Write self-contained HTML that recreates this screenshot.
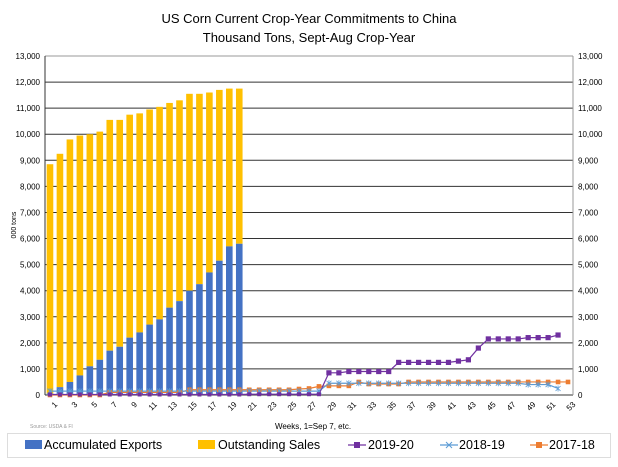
<!DOCTYPE html>
<html><head><style>
body{margin:0;background:#fff;width:618px;height:462px;overflow:hidden;font-family:"Liberation Sans",sans-serif}
</style></head><body>
<svg id="c" width="618" height="462" xmlns="http://www.w3.org/2000/svg" font-family="Liberation Sans, sans-serif"></svg>
<script>
const s=document.getElementById('c');
let h='';
const X0=45,X1=573,Y0=395,Y1=56;
const step=(X1-X0)/53;
const cx=i=>X0+(i-0.5)*step;
const cy=v=>Y0-(v/13000)*(Y0-Y1);
h+=`<text x="309" y="23" font-size="13" text-anchor="middle" fill="#000">US Corn Current Crop-Year Commitments to China</text>`;
h+=`<text x="309" y="42" font-size="13" text-anchor="middle" fill="#000">Thousand Tons, Sept-Aug Crop-Year</text>`;
for(let k=0;k<=13;k++){const y=cy(k*1000);
 h+=`<line x1="${X0}" x2="${X1}" y1="${y}" y2="${y}" stroke="${k==13?'#999':'#333'}" stroke-width="1"/>`;
 const t=k==0?'0':(k*1000).toLocaleString('en-US');
 h+=`<text x="${X0-5}" y="${y+3}" font-size="8" text-anchor="end">${t}</text>`;
 h+=`<text x="${X1+5}" y="${y+3}" font-size="8">${t}</text>`;}
h+=`<line x1="${X0}" x2="${X0}" y1="${Y1}" y2="${Y0}" stroke="#333"/>`;
h+=`<line x1="${X1}" x2="${X1}" y1="${Y1}" y2="${Y0}" stroke="#999"/>`;
const tot=[8.85,9.25,9.8,9.95,10.0,10.1,10.55,10.55,10.75,10.8,10.95,11.05,11.2,11.3,11.55,11.55,11.6,11.7,11.75,11.75];
const ex=[0.05,0.3,0.5,0.75,1.1,1.35,1.7,1.85,2.2,2.4,2.7,2.9,3.35,3.6,4.0,4.25,4.7,5.15,5.7,5.8];
for(let i=0;i<20;i++){const x=cx(i+1)-3.3,w=6.6;
 h+=`<rect x="${x}" y="${cy(tot[i]*1000)}" width="${w}" height="${cy(ex[i]*1000)-cy(tot[i]*1000)}" fill="#FFC000"/>`;
 h+=`<rect x="${x}" y="${cy(ex[i]*1000)}" width="${w}" height="${Y0-cy(ex[i]*1000)}" fill="#4472C4"/>`;}
const p=[],b=[],o=[];
for(let i=1;i<=52;i++){let v;
 if(i<=28)v=i<=20?20:30; else if(i<=30)v=850; else if(i<=35)v=900; else if(i<=41)v=1250; else if(i==42)v=1300; else if(i==43)v=1350; else if(i==44)v=1800; else if(i<=48)v=2150; else if(i<=51)v=2200; else v=2300;
 p.push(v);
 let w; if(i<=28)w=150; else if(i<=48)w=450; else if(i<=51)w=400; else w=250; b.push(w);}
for(let i=1;i<=53;i++){let v;
 if(i<=6)v=0; else if(i<=14)v=100; else if(i<=25)v=200; else if(i==26)v=230; else if(i<=27)v=250; else if(i==28)v=330; else if(i<=31)v=350; else if(i==32)v=500; else if(i<=36)v=420; else v=500; o.push(v);}
function line(d,c){return `<polyline fill="none" stroke="${c}" stroke-width="1.2" points="${d.map((v,i)=>cx(i+1)+','+cy(v)).join(' ')}"/>`;}
h+=line(o,'#ED7D31');h+=line(b,'#5B9BD5');h+=line(p,'#7030A0');
o.forEach((v,i)=>h+=`<rect x="${cx(i+1)-2.3}" y="${cy(v)-2.3}" width="4.6" height="4.6" fill="#ED7D31"/>`);
b.forEach((v,i)=>{const x=cx(i+1),y=cy(v);h+=`<path d="M${x-2.5} ${y-2.5}L${x+2.5} ${y+2.5}M${x+2.5} ${y-2.5}L${x-2.5} ${y+2.5}M${x} ${y-3}V${y+3}" stroke="#5B9BD5" stroke-width="0.8"/>`;});
p.forEach((v,i)=>{const sz=i<28?4:5.2;h+=`<rect x="${cx(i+1)-sz/2}" y="${cy(v)-sz/2}" width="${sz}" height="${sz}" fill="#7030A0"/>`;});
for(let i=1;i<=53;i+=2){const x=cx(i)+4,y=401;
 h+=`<text x="${x}" y="${y}" font-size="8" text-anchor="end" transform="rotate(-45 ${x} ${y})" dominant-baseline="hanging">${i}</text>`;}
h+=`<text x="30" y="428" font-size="5" fill="#999">Source: USDA &amp; FI</text>`;
h+=`<text x="313" y="429" font-size="8" text-anchor="middle">Weeks, 1=Sep 7, etc.</text>`;
h+=`<rect x="7.5" y="433.5" width="603" height="24" fill="none" stroke="#ddd"/>`;
h+=`<rect x="25" y="440" width="17" height="9" fill="#4472C4"/><text x="44" y="449" font-size="12.5">Accumulated Exports</text>`;
h+=`<rect x="198" y="440" width="17" height="9" fill="#FFC000"/><text x="218" y="449" font-size="12.5">Outstanding Sales</text>`;
h+=`<line x1="348" x2="366" y1="445" y2="445" stroke="#7030A0" stroke-width="1.2"/><rect x="354" y="442" width="6" height="6" fill="#7030A0"/><text x="368" y="449" font-size="12.5">2019-20</text>`;
h+=`<line x1="440" x2="458" y1="445" y2="445" stroke="#5B9BD5" stroke-width="1.2"/><path d="M446 442L452 448M452 442L446 448" stroke="#5B9BD5"/><text x="459" y="449" font-size="12.5">2018-19</text>`;
h+=`<line x1="530" x2="548" y1="445" y2="445" stroke="#ED7D31" stroke-width="1.2"/><rect x="536" y="442" width="6" height="6" fill="#ED7D31"/><text x="549" y="449" font-size="12.5">2017-18</text>`;
h+=`<text x="16" y="225" font-size="7" text-anchor="middle" transform="rotate(-90 16 225)">000 tons</text>`;
s.innerHTML=h;
</script>
</body></html>
